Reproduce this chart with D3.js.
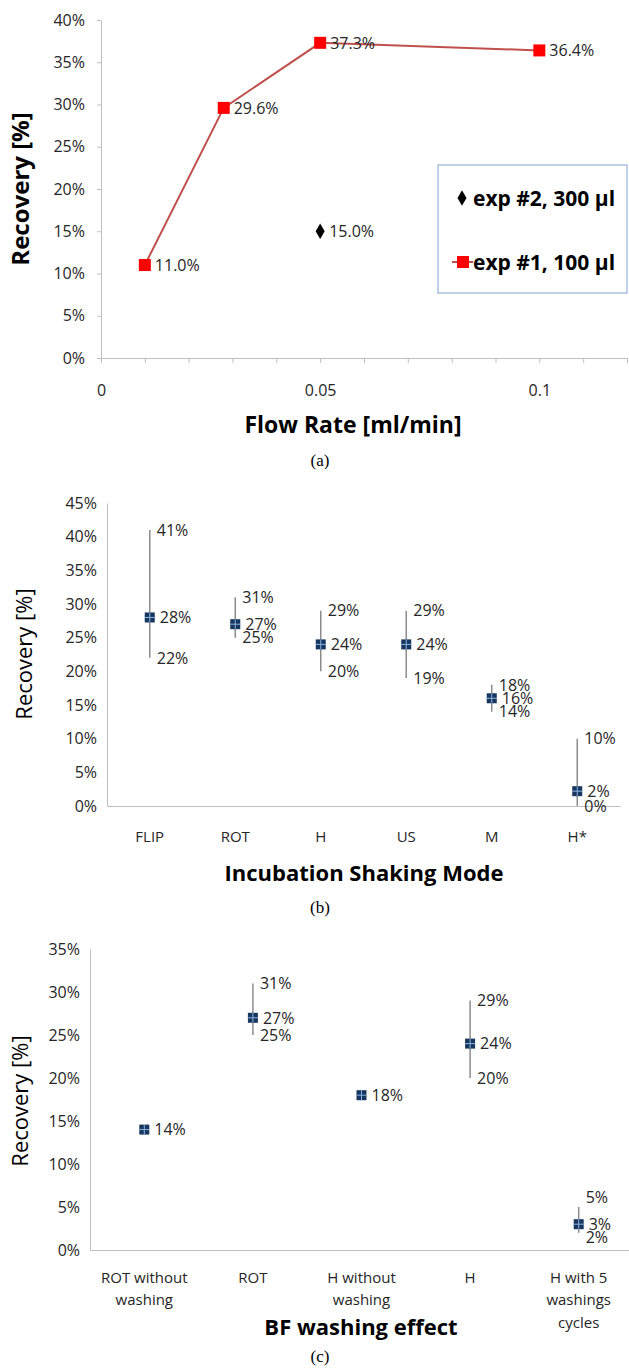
<!DOCTYPE html>
<html>
<head>
<meta charset="utf-8">
<title>Recovery charts</title>
<style>
  body { margin: 0; background: #fff; }
  svg { display: block; font-family: "Open Sans", sans-serif; }
  .axis path, .axis line { stroke: #bfbfbf; }
  .axis text { font-family: "Open Sans", sans-serif; font-size: 16px; fill: #262626; }
  .lbl { font-size: 16px; fill: #262626; }
  .title { font-weight: bold; fill: #000; }
  .cap { font-family: "Liberation Serif", "Times New Roman", serif; font-size: 17px; fill: #000; }
</style>
</head>
<body>
<svg width="629" height="1368"></svg>
<script src="https://cdn.jsdelivr.net/npm/d3@7"></script>
<script>
// (a) flow rate
var flowRates = [0.01, 0.028, 0.05, 0.1];
var exp1Recovery = [11.0, 29.6, 37.3, 36.4];
var exp2Flow = [0.05];
var exp2Recovery = [15.0];
var flowTicks = [0, 0.01, 0.02, 0.03, 0.04, 0.05, 0.06, 0.07, 0.08, 0.09, 0.1, 0.11, 0.12];
var flowTickLabels = ["0", "", "", "", "", "0.05", "", "", "", "", "0.1", "", ""];

// (b) incubation shaking mode
var shakingModes = ["FLIP", "ROT", "H", "US", "M", "H*"];
var shakingMean = [28, 27, 24, 24, 16, 2.2];
var shakingHigh = [41, 31, 29, 29, 18, 10];
var shakingLow = [22, 25, 20, 19, 14, 0];

// (c) BF washing effect
var washModes = ["ROT without\nwashing", "ROT", "H without\nwashing", "H", "H with 5\nwashings\ncycles"];
var washMean = [14, 27, 18, 24, 3];
var washHigh = [null, 31, null, 29, 5];
var washLow = [null, 25, null, 20, 2];

var svg = d3.select("svg");
var pct = function(d) { return d + "%"; };

/* ---------- chart (a) ---------- */
var xA = d3.scaleLinear().domain([0, 0.12]).range([101, 627]);
var yA = d3.scaleLinear().domain([0, 40]).range([358, 20]);
var gA = svg.append("g");

gA.append("g")
  .attr("class", "axis")
  .attr("transform", "translate(" + xA(0) + ",0)")
  .call(d3.axisLeft(yA).tickValues(d3.range(0, 41, 5)).tickFormat(pct).tickSize(4).tickSizeOuter(0).tickPadding(12));

gA.append("g")
  .attr("class", "axis")
  .attr("transform", "translate(0," + yA(0) + ")")
  .call(d3.axisBottom(xA).tickValues(flowTicks)
    .tickFormat(function(d, i) { return flowTickLabels[i]; })
    .tickSize(5).tickSizeOuter(0).tickPadding(22));

var line = d3.line()
  .x(function(d, i) { return xA(flowRates[i]); })
  .y(function(d) { return yA(d); });

gA.append("path")
  .datum(exp1Recovery)
  .attr("d", line)
  .attr("fill", "none")
  .attr("stroke", "#c0504d")
  .attr("stroke-width", 2);

gA.selectAll(".m1")
  .data(exp1Recovery)
  .enter().append("rect")
  .attr("x", function(d, i) { return xA(flowRates[i]) - 6; })
  .attr("y", function(d) { return yA(d) - 6; })
  .attr("width", 12).attr("height", 12)
  .attr("fill", "#ff0000");

gA.selectAll(".l1")
  .data(exp1Recovery)
  .enter().append("text")
  .attr("class", "lbl")
  .attr("x", function(d, i) { return xA(flowRates[i]) + 10; })
  .attr("y", function(d) { return yA(d); })
  .attr("dy", "0.36em")
  .text(function(d) { return d.toFixed(1) + "%"; });

var diamond = d3.symbol().type(d3.symbolDiamond).size(70);
gA.selectAll(".m2")
  .data(exp2Recovery)
  .enter().append("path")
  .attr("d", diamond)
  .attr("transform", function(d, i) { return "translate(" + xA(exp2Flow[i]) + "," + yA(d) + ")"; })
  .attr("fill", "#000");

gA.selectAll(".l2")
  .data(exp2Recovery)
  .enter().append("text")
  .attr("class", "lbl")
  .attr("x", function(d, i) { return xA(exp2Flow[i]) + 9; })
  .attr("y", function(d) { return yA(d); })
  .attr("dy", "0.36em")
  .text(function(d) { return d.toFixed(1) + "%"; });

// legend
var leg = gA.append("g");
leg.append("rect")
  .attr("x", 438).attr("y", 165).attr("width", 189).attr("height", 128)
  .attr("fill", "#fff").attr("stroke", "#95b3d7").attr("stroke-width", 1.2);
leg.append("path").attr("d", diamond).attr("transform", "translate(462,198)").attr("fill", "#000");
leg.append("text").attr("class", "title").attr("x", 473).attr("y", 198).attr("dy", "0.36em")
  .style("font-size", "21px").text("exp #2, 300 µl");
leg.append("line").attr("x1", 452).attr("x2", 473).attr("y1", 262).attr("y2", 262)
  .attr("stroke", "#c0504d").attr("stroke-width", 2);
leg.append("rect").attr("x", 457).attr("y", 256).attr("width", 12).attr("height", 12).attr("fill", "#ff0000");
leg.append("text").attr("class", "title").attr("x", 473).attr("y", 262).attr("dy", "0.36em")
  .style("font-size", "21px").text("exp #1, 100 µl");

gA.append("text").attr("class", "title")
  .attr("transform", "translate(20,189) rotate(-90)")
  .attr("text-anchor", "middle").attr("dy", "0.36em")
  .style("font-size", "24px").text("Recovery [%]");
gA.append("text").attr("class", "title")
  .attr("x", 353).attr("y", 425).attr("text-anchor", "middle").attr("dy", "0.36em")
  .style("font-size", "23px").text("Flow Rate [ml/min]");
gA.append("text").attr("class", "cap")
  .attr("x", 320).attr("y", 460).attr("text-anchor", "middle").attr("dy", "0.36em").text("(a)");

/* ---------- shared error-bar drawing for (b) and (c) ---------- */
function drawErrorChart(g, x, y, cats, mean, high, low, nudge) {
  var cx = function(i) { return x(cats[i]) + x.bandwidth() / 2; };
  cats.forEach(function(c, i) {
    if (high[i] != null) {
      g.append("line")
        .attr("x1", cx(i)).attr("x2", cx(i))
        .attr("y1", y(high[i])).attr("y2", y(low[i]))
        .attr("stroke", "#8c8c8c").attr("stroke-width", 1.5);
      g.append("text").attr("class", "lbl")
        .attr("x", cx(i) + 7).attr("y", y(high[i]) + (nudge[i] ? nudge[i][0] : 0)).attr("dy", "0.36em")
        .text(high[i] + "%");
      g.append("text").attr("class", "lbl")
        .attr("x", cx(i) + 7).attr("y", y(low[i]) + (nudge[i] ? nudge[i][1] : 0)).attr("dy", "0.36em")
        .text(low[i] + "%");
    }
    g.append("rect")
      .attr("x", cx(i) - 5).attr("y", y(mean[i]) - 5)
      .attr("width", 10).attr("height", 10)
      .attr("fill", "#17375e");
    g.append("line")
      .attr("x1", cx(i) - 5).attr("x2", cx(i) + 5).attr("y1", y(mean[i])).attr("y2", y(mean[i]))
      .attr("stroke", "#8db3e2").attr("stroke-width", 1);
    g.append("line")
      .attr("x1", cx(i)).attr("x2", cx(i)).attr("y1", y(mean[i]) - 5).attr("y2", y(mean[i]) + 5)
      .attr("stroke", "#8db3e2").attr("stroke-width", 1);
    g.append("text").attr("class", "lbl")
      .attr("x", cx(i) + 10).attr("y", y(mean[i])).attr("dy", "0.36em")
      .text(Math.round(mean[i]) + "%");
  });
}

/* ---------- chart (b) ---------- */
var xB = d3.scaleBand().domain(shakingModes).range([107, 620]);
var yB = d3.scaleLinear().domain([0, 45]).range([806, 503]);
var gB = svg.append("g");

gB.append("g").attr("class", "axis")
  .attr("transform", "translate(" + xB.range()[0] + ",0)")
  .call(d3.axisLeft(yB).tickValues(d3.range(0, 46, 5)).tickFormat(pct).tickSize(0).tickPadding(10));
gB.append("g").attr("class", "axis")
  .attr("transform", "translate(0," + yB(0) + ")")
  .call(d3.axisBottom(xB).tickSize(0).tickPadding(25))
  .selectAll("text").style("font-size", "15px");

drawErrorChart(gB, xB, yB, shakingModes, shakingMean, shakingHigh, shakingLow, {});

gB.append("text")
  .attr("transform", "translate(24,654) rotate(-90)")
  .attr("text-anchor", "middle").attr("dy", "0.36em")
  .style("font-size", "22px").style("fill", "#000").text("Recovery [%]");
gB.append("text").attr("class", "title")
  .attr("x", 364).attr("y", 873).attr("text-anchor", "middle").attr("dy", "0.36em")
  .style("font-size", "22px").text("Incubation Shaking Mode");
gB.append("text").attr("class", "cap")
  .attr("x", 320).attr("y", 907).attr("text-anchor", "middle").attr("dy", "0.36em").text("(b)");

/* ---------- chart (c) ---------- */
var xC = d3.scaleBand().domain(washModes).range([90, 633]);
var yC = d3.scaleLinear().domain([0, 35]).range([1250, 949]);
var gC = svg.append("g");

gC.append("g").attr("class", "axis")
  .attr("transform", "translate(" + xC.range()[0] + ",0)")
  .call(d3.axisLeft(yC).tickValues(d3.range(0, 36, 5)).tickFormat(pct).tickSize(0).tickPadding(10));
gC.append("g").attr("class", "axis")
  .attr("transform", "translate(0," + yC(0) + ")")
  .call(d3.axisBottom(xC).tickSize(0).tickPadding(22))
  .selectAll(".tick text")
  .style("font-size", "15px")
  .each(function(d) {
    var t = d3.select(this).text("");
    d.split("\n").forEach(function(s, k) {
      t.append("tspan").attr("x", 0).attr("dy", k === 0 ? "0.71em" : "1.5em").text(s);
    });
  });

drawErrorChart(gC, xC, yC, washModes, washMean, washHigh, washLow, {4: [-10, 4]});

gC.append("text")
  .attr("transform", "translate(20,1101) rotate(-90)")
  .attr("text-anchor", "middle").attr("dy", "0.36em")
  .style("font-size", "22px").style("fill", "#000").text("Recovery [%]");
gC.append("text").attr("class", "title")
  .attr("x", 361).attr("y", 1327).attr("text-anchor", "middle").attr("dy", "0.36em")
  .style("font-size", "22px").text("BF washing effect");
gC.append("text").attr("class", "cap")
  .attr("x", 320).attr("y", 1356).attr("text-anchor", "middle").attr("dy", "0.36em").text("(c)");
</script>
</body>
</html>
